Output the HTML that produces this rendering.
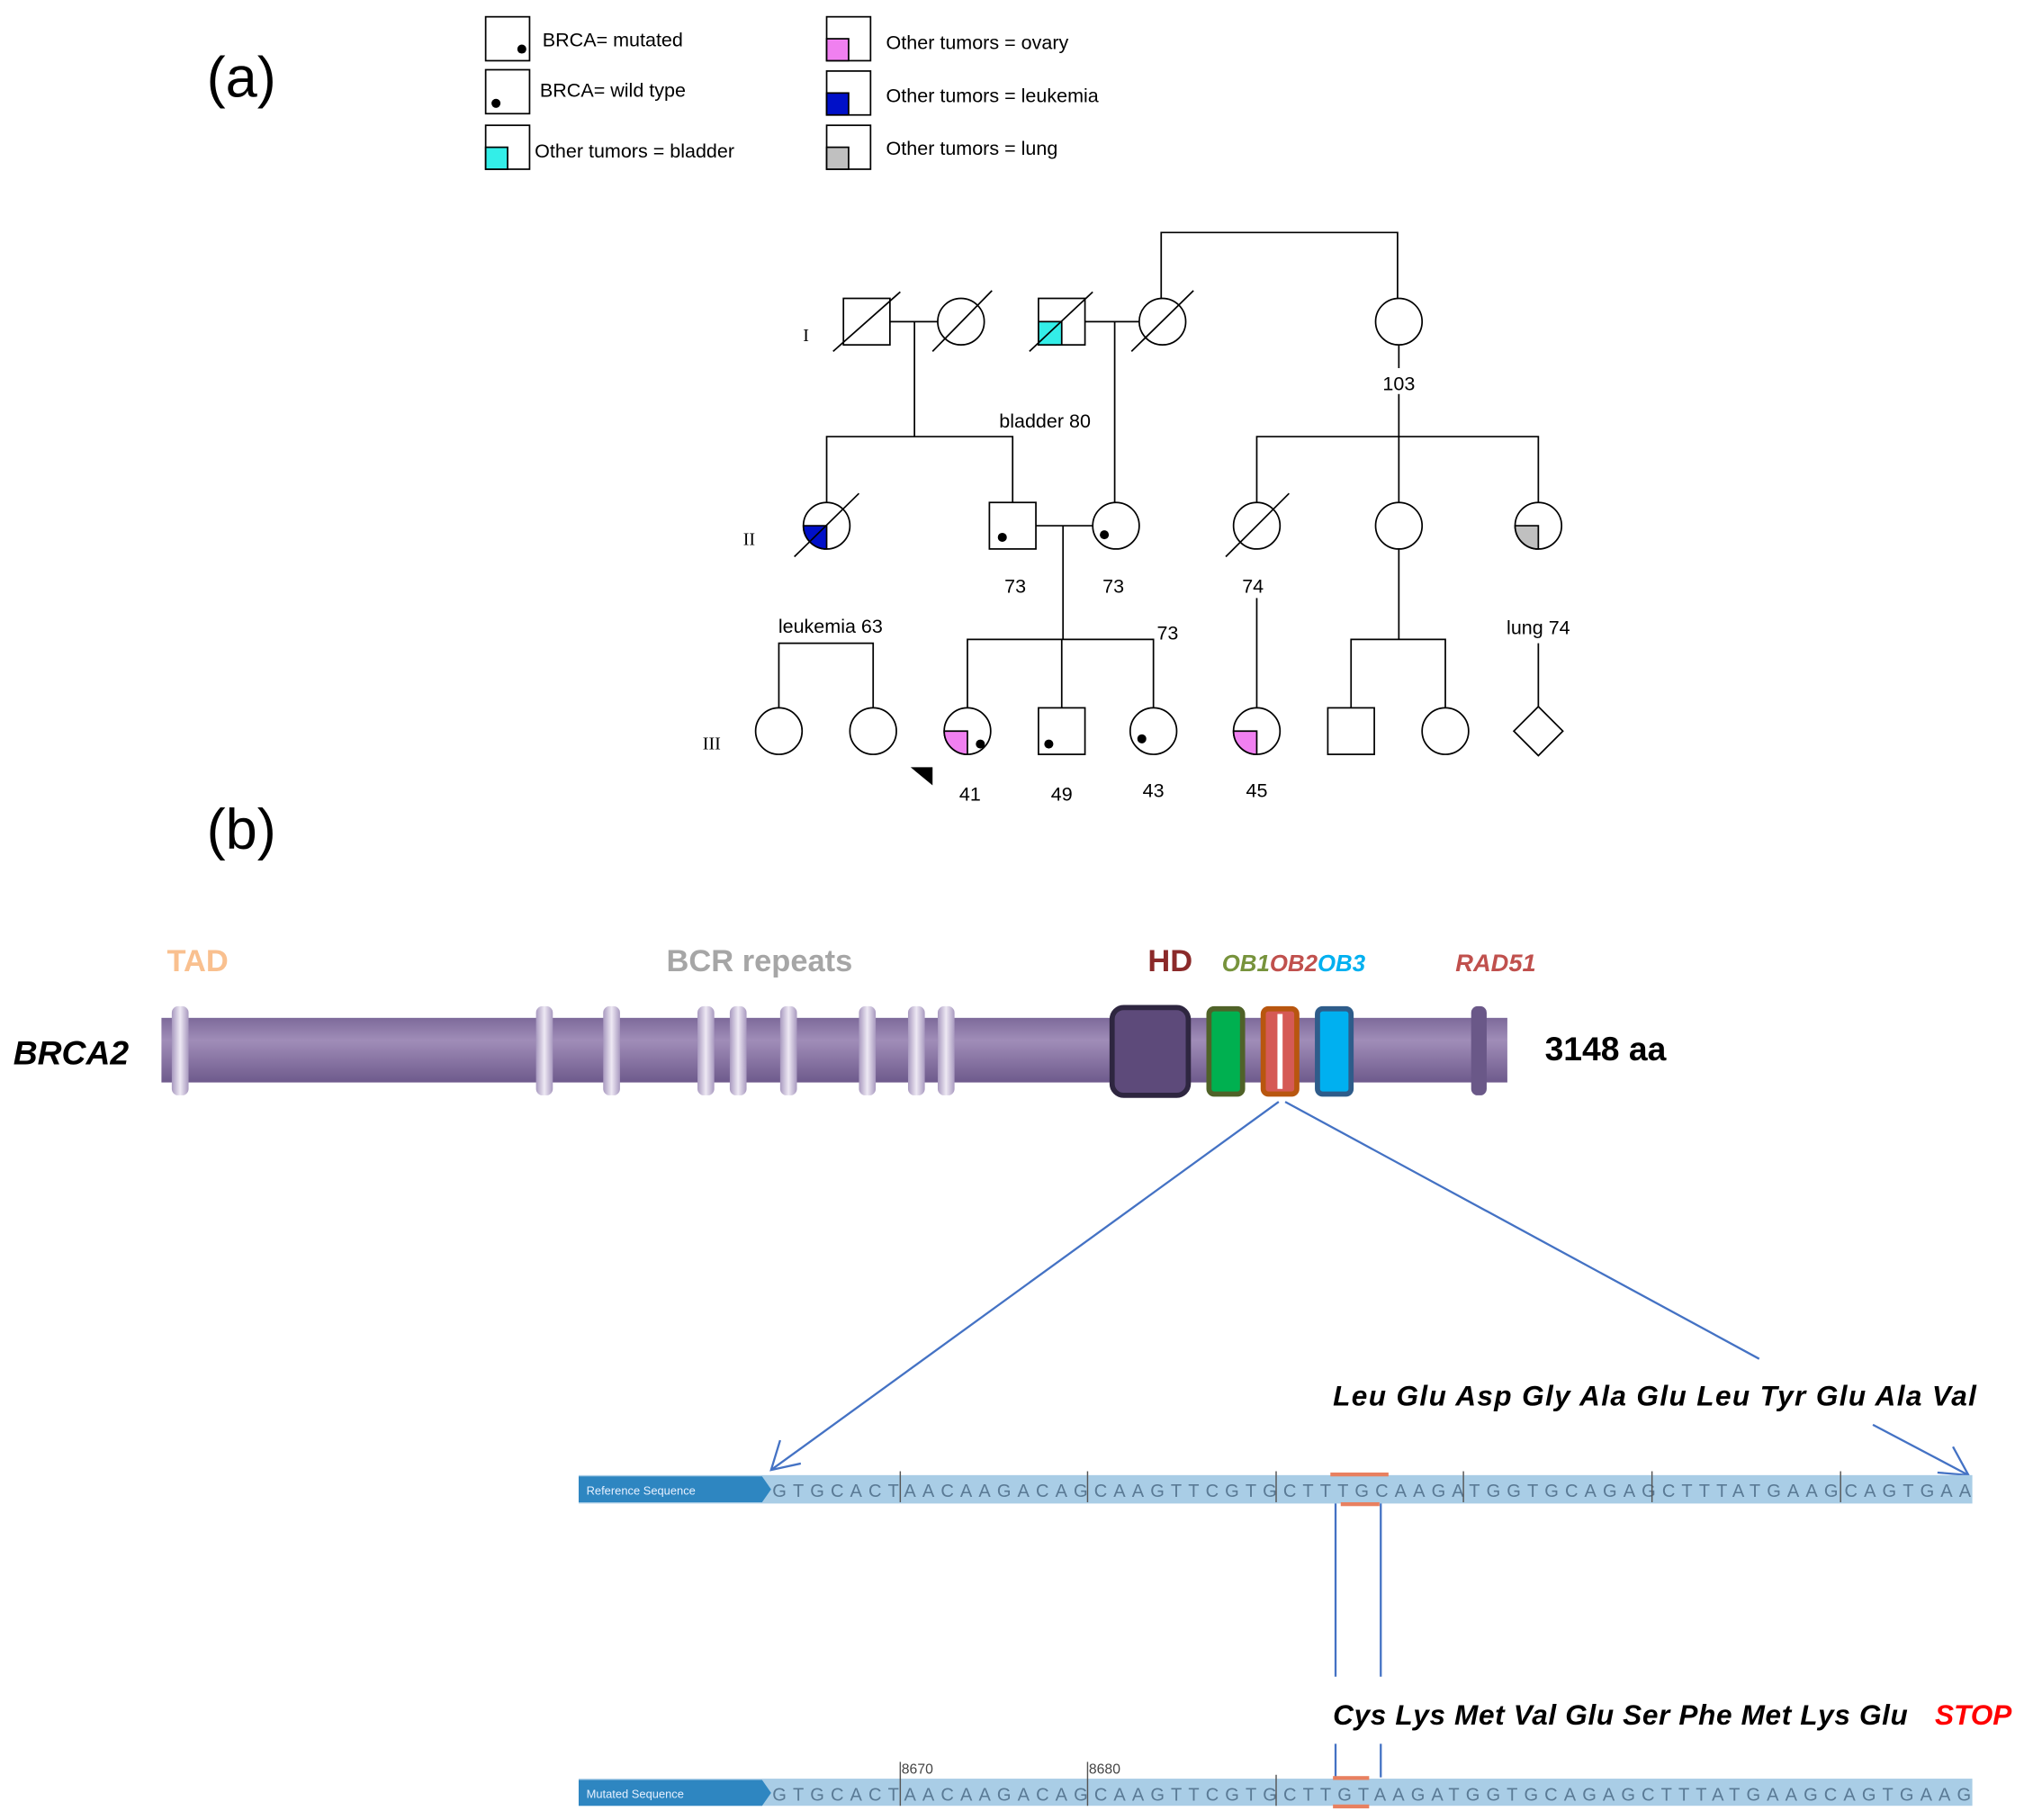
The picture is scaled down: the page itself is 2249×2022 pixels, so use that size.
<!DOCTYPE html>
<html><head><meta charset="utf-8"><style>html,body{margin:0;padding:0;background:#fff}svg{display:block}</style></head>
<body>
<svg width="2249" height="2022" viewBox="0 0 1567 1409" preserveAspectRatio="none" xmlns="http://www.w3.org/2000/svg" font-family="Liberation Sans, sans-serif">
<defs>
<linearGradient id="bar" x1="0" y1="0" x2="0" y2="1"><stop offset="0" stop-color="#7d6a9a"/><stop offset="0.35" stop-color="#a08db8"/><stop offset="1" stop-color="#6e5a8c"/></linearGradient>
<linearGradient id="str" x1="0" y1="0" x2="1" y2="0"><stop offset="0" stop-color="#a899bf"/><stop offset="0.5" stop-color="#eee9f4"/><stop offset="1" stop-color="#a899bf"/></linearGradient>
</defs>
<rect width="1567" height="1409" fill="#fff"/>
<text x="160" y="75" font-size="44">(a)</text>
<text x="160" y="657" font-size="44">(b)</text>
<!-- legend -->
<g stroke="#000" stroke-width="1.2" fill="none" font-size="15">
<rect x="376" y="13" width="34" height="34"/>
<rect x="376" y="54" width="34" height="34"/>
<rect x="376" y="97" width="34" height="34"/><rect x="376" y="114" width="17" height="17" fill="#33eee8"/>
<rect x="640" y="13" width="34" height="34"/><rect x="640" y="30" width="17" height="17" fill="#f080f0"/>
<rect x="640" y="55" width="34" height="34"/><rect x="640" y="72" width="17" height="17" fill="#0010c8"/>
<rect x="640" y="97" width="34" height="34"/><rect x="640" y="114" width="17" height="17" fill="#c0c0c0"/>
</g>
<circle cx="404" cy="38" r="3.5"/><circle cx="384" cy="80" r="3.5"/>
<g font-size="15" fill="#000">
<text x="420" y="36">BRCA= mutated</text>
<text x="418" y="75">BRCA= wild type</text>
<text x="414" y="122">Other tumors = bladder</text>
<text x="686" y="38">Other tumors = ovary</text>
<text x="686" y="79">Other tumors = leukemia</text>
<text x="686" y="120">Other tumors = lung</text>
</g>
<!-- pedigree lines -->
<g stroke="#000" stroke-width="1.2" fill="none">
<polyline points="899,231 899,180 1082,180 1082,231"/>
<line x1="689" y1="249" x2="726" y2="249"/><line x1="840" y1="249" x2="882" y2="249"/>
<polyline points="708,249 708,338"/><polyline points="640,389 640,338 784,338 784,389"/>
<line x1="863" y1="249" x2="863" y2="389"/>
<line x1="1083" y1="267" x2="1083" y2="285"/><line x1="1083" y1="305" x2="1083" y2="389"/>
<polyline points="973,389 973,338 1191,338 1191,389"/>
<line x1="802" y1="407" x2="846" y2="407"/>
<line x1="823" y1="407" x2="823" y2="495"/>
<polyline points="749,548 749,495 893,495 893,548"/>
<line x1="822" y1="495" x2="822" y2="548"/>
<polyline points="603,548 603,498 676,498 676,548"/>
<line x1="973" y1="463" x2="973" y2="548"/>
<line x1="1083" y1="425" x2="1083" y2="495"/><polyline points="1046,548 1046,495 1119,495 1119,548"/>
<line x1="1191" y1="498" x2="1191" y2="548"/>
<!-- gen I -->
<rect x="653" y="231" width="36" height="36" fill="#fff"/><line x1="645" y1="272" x2="697" y2="226"/>
<circle cx="744" cy="249" r="18" fill="#fff"/><line x1="722" y1="272" x2="768" y2="225"/>
<rect x="804" y="231" width="36" height="36" fill="#fff"/><rect x="804" y="249" width="18" height="18" fill="#33eee8"/><line x1="797" y1="272" x2="846" y2="226"/>
<circle cx="900" cy="249" r="18" fill="#fff"/><line x1="876" y1="272" x2="924" y2="225"/>
<circle cx="1083" cy="249" r="18" fill="#fff"/>
<!-- gen II -->
<circle cx="640" cy="407" r="18" fill="#fff"/><path d="M640,407 L622,407 A18,18 0 0 0 640,425 Z" fill="#0010c8"/><line x1="615" y1="431" x2="665" y2="382"/>
<rect x="766" y="389" width="36" height="36" fill="#fff"/>
<circle cx="864" cy="407" r="18" fill="#fff"/>
<circle cx="973" cy="407" r="18" fill="#fff"/><line x1="949" y1="431" x2="998" y2="382"/>
<circle cx="1083" cy="407" r="18" fill="#fff"/>
<circle cx="1191" cy="407" r="18" fill="#fff"/><path d="M1191,407 L1173,407 A18,18 0 0 0 1191,425 Z" fill="#c0c0c0"/>
<!-- gen III -->
<circle cx="603" cy="566" r="18" fill="#fff"/><circle cx="676" cy="566" r="18" fill="#fff"/>
<circle cx="749" cy="566" r="18" fill="#fff"/><path d="M749,566 L731,566 A18,18 0 0 0 749,584 Z" fill="#f080f0"/>
<rect x="804" y="548" width="36" height="36" fill="#fff"/>
<circle cx="893" cy="566" r="18" fill="#fff"/>
<circle cx="973" cy="566" r="18" fill="#fff"/><path d="M973,566 L955,566 A18,18 0 0 0 973,584 Z" fill="#f080f0"/>
<rect x="1028" y="548" width="36" height="36" fill="#fff"/>
<circle cx="1119" cy="566" r="18" fill="#fff"/>
<polygon points="1191,547 1210,566 1191,585 1172,566" fill="#fff"/>
</g>
<g fill="#000"><circle cx="776" cy="416" r="3.5"/><circle cx="855" cy="414" r="3.5"/><circle cx="759" cy="576" r="3.5"/><circle cx="812" cy="576" r="3.5"/><circle cx="884" cy="572" r="3.5"/>
<polygon points="705,594 722,594 722,608"/></g>
<g font-size="15" text-anchor="middle" fill="#000">
<text x="809" y="331">bladder 80</text><text x="1083" y="302">103</text>
<text x="786" y="459">73</text><text x="862" y="459">73</text><text x="970" y="459">74</text>
<text x="904" y="495">73</text><text x="643" y="490">leukemia 63</text><text x="1191" y="491">lung 74</text>
<text x="751" y="620">41</text><text x="822" y="620">49</text><text x="893" y="617">43</text><text x="973" y="617">45</text>
</g>
<g font-family="Liberation Serif, serif" font-size="14" text-anchor="middle"><text x="624" y="264">I</text><text x="580" y="422">II</text><text x="551" y="580">III</text></g>
<!-- (b) protein -->
<g font-weight="bold" font-size="24" text-anchor="middle">
<text x="153" y="752" fill="#f9c08f">TAD</text>
<text x="588" y="752" fill="#a6a6a6">BCR repeats</text>
<text x="906" y="752" fill="#8b2a2a">HD</text>
</g>
<text x="946" y="752" font-size="18" font-weight="bold" font-style="italic"><tspan fill="#77933c">OB1</tspan><tspan fill="#c0504d">OB2</tspan><tspan fill="#00b0f0">OB3</tspan></text>
<text x="1158" y="752" font-size="19" font-weight="bold" font-style="italic" fill="#c0504d" text-anchor="middle">RAD51</text>
<rect x="125" y="788" width="1042" height="50" fill="url(#bar)"/>
<g fill="url(#str)">
<rect x="133" y="779" width="13" height="69" rx="5"/><rect x="415" y="779" width="13" height="69" rx="5"/><rect x="467" y="779" width="13" height="69" rx="5"/>
<rect x="540" y="779" width="13" height="69" rx="5"/><rect x="565" y="779" width="13" height="69" rx="5"/><rect x="604" y="779" width="13" height="69" rx="5"/>
<rect x="665" y="779" width="13" height="69" rx="5"/><rect x="703" y="779" width="13" height="69" rx="5"/><rect x="726" y="779" width="13" height="69" rx="5"/>
</g>
<rect x="1139" y="779" width="12" height="69" rx="5" fill="#6a5888"/>
<rect x="861" y="780" width="59" height="68" rx="9" fill="#5d4a7a" stroke="#2e2640" stroke-width="4"/>
<rect x="936" y="781" width="26" height="66" rx="4" fill="#00b050" stroke="#4f6228" stroke-width="4"/>
<rect x="978" y="781" width="26" height="66" rx="4" fill="#d55a55" stroke="#b8560f" stroke-width="4"/><rect x="989" y="785" width="4" height="58" fill="#fff"/>
<rect x="1020" y="781" width="26" height="66" rx="4" fill="#00b0f0" stroke="#2e5c8a" stroke-width="4"/>
<text x="55" y="824" font-size="26" font-weight="bold" font-style="italic" text-anchor="middle">BRCA2</text>
<text x="1243" y="821" font-size="26" font-weight="bold" text-anchor="middle">3148 aa</text>
<!-- connectors -->
<g stroke="#4472c4" stroke-width="1.6" fill="none">
<line x1="990" y1="853" x2="597" y2="1138"/><polyline points="604,1115 597,1138 620,1133"/>
<line x1="995" y1="853" x2="1362" y2="1052"/>
<line x1="1450" y1="1103" x2="1524" y2="1142"/><polyline points="1512,1120 1524,1142 1500,1140"/>
<line x1="1034" y1="1163" x2="1034" y2="1298"/><line x1="1069" y1="1163" x2="1069" y2="1298"/>
<line x1="1034" y1="1350" x2="1034" y2="1376"/><line x1="1069" y1="1350" x2="1069" y2="1376"/>
</g>
<g font-size="22" font-weight="bold" font-style="italic">
<text x="1032" y="1088" textLength="498" lengthAdjust="spacing">Leu  Glu  Asp  Gly  Ala  Glu  Leu Tyr  Glu  Ala Val</text>
<text x="1032" y="1335" textLength="445" lengthAdjust="spacing">Cys   Lys  Met Val  Glu  Ser  Phe Met Lys  Glu</text>
<text x="1498" y="1335" fill="#ff0000">STOP</text>
</g>
<!-- sequences -->
<g>
<rect x="448" y="1142" width="1079" height="22" fill="#a9cde6"/>
<path d="M448,1143 H590 L597,1153 L590,1163 H448 Z" fill="#2e86c1"/>
<text x="454" y="1157" font-size="9" fill="#e6f0ff">Reference Sequence</text>
<text x="598" y="1159" font-size="14" fill="#5a7a95" textLength="928" lengthAdjust="spacing">GTGCACTAACAAGACAGCAAGTTCGTGCTTTGCAAGATGGTGCAGAGCTTTATGAAGCAGTGAA</text>
<g stroke="#555" stroke-width="1"><line x1="697" y1="1139" x2="697" y2="1163"/><line x1="842" y1="1139" x2="842" y2="1163"/><line x1="988" y1="1139" x2="988" y2="1163"/><line x1="1133" y1="1139" x2="1133" y2="1163"/><line x1="1279" y1="1139" x2="1279" y2="1163"/><line x1="1425" y1="1139" x2="1425" y2="1163"/></g>
<rect x="1030" y="1140" width="45" height="3" fill="#e88060"/><rect x="1038" y="1163" width="30" height="3" fill="#e88060"/>

<rect x="448" y="1377" width="1079" height="21" fill="#a9cde6"/>
<path d="M448,1378 H590 L597,1388 L590,1398 H448 Z" fill="#2e86c1"/>
<text x="454" y="1392" font-size="9" fill="#e6f0ff">Mutated Sequence</text>
<text x="598" y="1394" font-size="14" fill="#5a7a95" textLength="928" lengthAdjust="spacing">GTGCACTAACAAGACAGCAAGTTCGTGCTTGTAAGATGGTGCAGAGCTTTATGAAGCAGTGAAG</text>
<g stroke="#555" stroke-width="1"><line x1="697" y1="1364" x2="697" y2="1398"/><line x1="842" y1="1364" x2="842" y2="1398"/><line x1="988" y1="1374" x2="988" y2="1398"/></g>
<text x="698" y="1373" font-size="11" fill="#444">8670</text><text x="843" y="1373" font-size="11" fill="#444">8680</text>
<rect x="1032" y="1375" width="28" height="3" fill="#e88060"/><rect x="1032" y="1397" width="28" height="3" fill="#e88060"/>
</g>
</svg>
</body></html>
